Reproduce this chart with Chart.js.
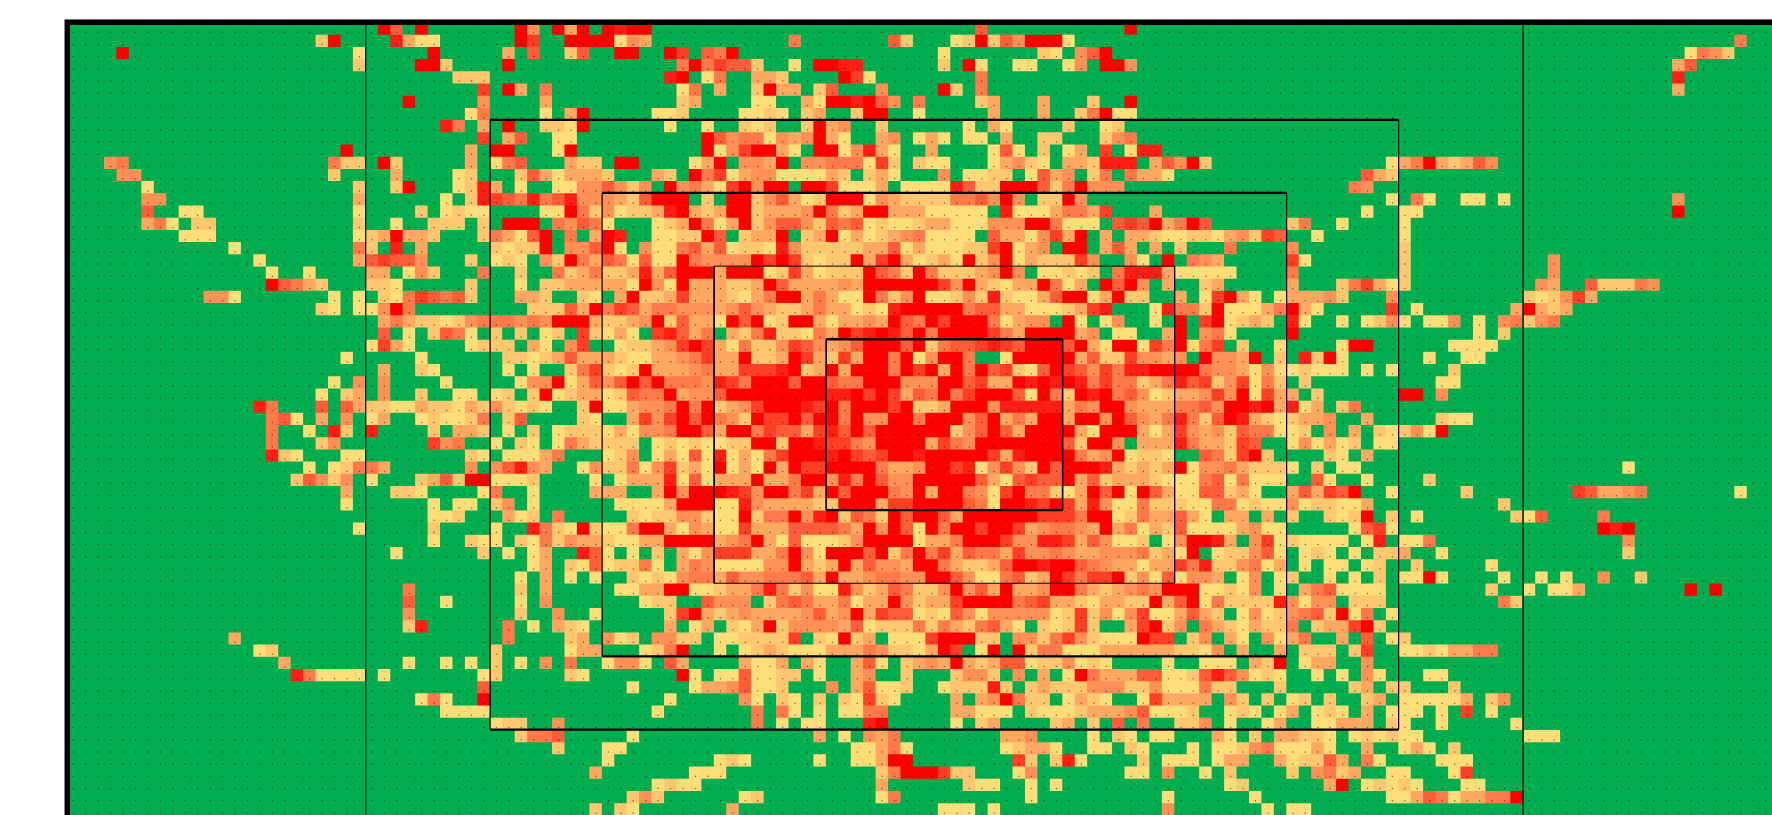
<!DOCTYPE html>
<html>
<head>
<meta charset="utf-8">
<title>Heat map</title>
<script src="https://cdn.jsdelivr.net/npm/chart.js@4"></script>
<style>
html,body{margin:0;padding:0;background:#fff;}
canvas{display:block;}
</style>
</head>
<body>
<canvas id="heatChart" width="1772" height="815"></canvas>
<script>
const columnCount = 137;
const levelColors = ['#00AE50','#FFDD78','#FFC870','#FFA862','#FF9156','#FF7A4A','#FF5C3A','#FF3E26','#FF1E14','#FF0000'];

// one string per row, "col:levels", anything not listed is level 0
const rowCells = [
  "25:96 28:9 36:94 39:939 43:9899 73:6 85:9",
  "20:29 26:8311 36:97 40:9999143 58:5 66:62 71:1292649991 134:5",
  "4:9 23:1 29:9 35:3 37:6 40:26 44:99 48:97 51:659 70:1 78:21 81:469 130:1542",
  "23:2 28:992 35:9 49:5957662 58:1 60:9988 70:2 72:91 76:11 80:14 83:994 129:36",
  "31:222 48:89 51:15 55:332 62:971 73:5 129:8",
  "33:7 35:93 38:5 49:15 52:3 55:2933 60:26 65:4 70:92 73:5 129:3",
  "27:9 33:4 38:3 49:23 55:11 59:31 61:99 63:896 66:4 68:5 73:23 78:3 82:2 85:9",
  "32:15 38:1 40:39 47:112 54:1121 59:23 63:299 68:1 74:3 78:3 81:259 84:11",
  "30:85 33:3 35:9 38:221 41:9 48:1 51:1 54:212 59:2934 65:2 72:1 74:31 80:2 83:12",
  "33:7 35:36 39:11 51:964551434 60:931 65:34 68:131 72:11 75:3 78:22 83:245",
  "22:9 32:3 34:99 39:19 51:91479931 60:9914831 69:3 74:161 78:2 80:13 83:7 85:188",
  "3:45 21:522 25:92 32:3 34:156 40:322 44:99 50:139 54:443 57:9 59:44555172 68:211 74:13421 80:332 83:888 87:3649 91:2 106:135932364",
  "4:44 21:2 26:3 31:12 36:2631333 43:2 47:32 50:957 53:1344111132 64:231 70:4 72:1122 77:1634 82:25 85:5331 104:632",
  "6:1 23:2 26:29 31:128 34:3 36:1 39:1144 43:6424 48:9453179499 59:9971113 67:1111 71:8622999 78:6259444 103:54",
  "6:44 23:3 30:1 32:28765856844 43:4326999 51:2 53:992463129991432222556494 78:22 80:94 106:1 108:51 112:11 115:1 129:4",
  "6:6 9:11 23:1 28:2 30:1211 38:11952 43:4122389323992333495239933311111 75:811135537 87:3 104:1 107:11 129:9",
  "6:351 10:22 23:2 26:1 29:222 33:2 35:999 39:5465 43:1 47:123951392466426561211233111444995111 84:6769359 91:6 98:25 102:1 107:1",
  "9:111 23:1 24:23 26:9 27:33 29:2 33:2 34:53169 40:5 42:3 43:98 47:112296 54:2339 59:23913123451111 74:63314739 83:3 85:332112 91:2134276 100:1 107:1",
  "13:1 23:52 26:8 28:3 34:21229 40:446 43:91 46:411563612218422222336131112279134 80:99 83:363 87:3 89:2 93:5 98:4 107:2",
  "15:1 23:3 24:67664 32:2 34:121 38:42953 43:6516119 50:544449797212293793123192491322274 85:41 88:9 90:5 91:43 98:71 107:2 119:4",
  "16:1 19:1 24:33 27:142 33:5 36:2 39:5235 43:2238369993999127312229652952223494 78:11212 84:5888311 91:111 98:5 107:2 119:4",
  "16:96532 24:221 32:2 36:1 38:22333 43:331941933322396333343999999749321339513 83:9694 88:3 91:23 98:3 102:257312 118:43 122:622254",
  "11:441 21:1 23:1 25:21 27:576562 36:332 41:21 44:3922373332135993531195249112428211369913922 89:3 91:17931 97:133342 106:4 117:212473",
  "20:21 23:1 24:1495 37:222 40:639 43:57635544434643223533121899999566331112378 87:1855 91:2911135931 106:7 108:1 116:39323",
  "25:353 28:221245554549993 43:223492633196912993133439659799951344 80:91 83:14 87:1 89:9 91:791232 98:81 102:1 104:1241 109:114 113:1 115:45245",
  "25:6 27:1 29:265 32:1 34:2 36:2 38:12 41:72 43:131 47:78635 53:325822153978986959999753999934 84:11 88:39 91:451 98:9 113:1 115:2",
  "24:1731 32:1222 37:31 40:47 44:12234797315224764346999692566787699969319917591 91:57 94:2 97:1 102:199 111:1111",
  "22:1 28:1 35:22123633 43:321133457339223973273995914 70:995 75:199999 81:362274434 91:94439 97:2 99:8291 109:1 112:11",
  "25:3 28:21 35:1 37:1 40:257 43:212933345337778923939995979395967216976475889999 91:5443141 98:12111 104:1 106:1 111:2",
  "21:1 23:4 25:4 30:1 36:144 39:9136 43:469695554875999699655999444996733989898575523586 91:7247152 99:2 110:11",
  "20:1 22:23 25:4 28:2 31:11 34:12 37:291233 43:126559344699999999889797365957999619529895641233 91:4749173 98:3 100:2 107:99 110:4",
  "15:85 20:6 22:63 24:221132213242121 41:29 43:113445959234799987959997922399948888835499433355 91:6499893 98:813 102:25",
  "16:561 20:3 22:4 24:13 28:121125 35:26 41:21 45:3747969542977969959449959994693539939949643585 91:2698321 98:2334 104:3 110:211",
  "16:5 19:1 21:82 24:8 29:2 31:332 35:1 37:2 39:1222 43:131445996399576637869699999924696399993199931374 91:3426551 98:12 101:4 103:3 105:212419",
  "16:5 20:24 29:745 34:1 36:21 39:1532 43:222 47:12121122992998775499993754999999962994 86:33385 91:33276 98:141312 105:11",
  "16:821 22:11 32:21 35:11135 43:124 47:131618131579998976799899999738999953491221 91:652792 101:21 104:3",
  "19:1 21:12553 32:4 34:46843 41:14 43:22514723191319397799995334997814742969998323239 90:1 91:4453222 98:1 100:2 102:11 125:1",
  "18:26424 24:1 28:236299 34:1112 42:1 44:133381613339335994859644999996316766936233321 89:11 91:5615111 100:61 104:1 109:2",
  "22:3 26:221 33:15 37:1 42:333 47:39499987499573969995493995417955213969196311 91:66231 98:363769 106:1 112:2 121:763345 134:1",
  "22:1 29:1 31:11 34:24 37:1 44:11113999118433332299937799996519987973841152221 91:1551211 98:4122113 115:2",
  "29:112 35:312 39:5 45:2122442119255948926529699639999997775991253363 91:1 93:33 96:3 98:2 101:2129 106:2 108:1 116:216 123:5",
  "23:1 29:2 34:1 37:852192 43:115993143117333666653949619599799734554393513261 91:1113411 103:1671 123:989",
  "29:1 32:211 36:2152433 43:21133999934593161112499991335999744887364112 88:149 91:983 95:471 98:21111 104:18 107:115 125:4",
  "26:1 33:2 35:1 37:13 41:86 43:1 45:1 47:2 49:314777335941999692595736553744543344452319 92:122461 99:121 103:1 105:223 110:1 125:2",
  "37:13 40:216 43:12251 49:354111144932393644399532236998996543313375 91:8224513 99:1 101:11 104:12 108:2 114:1",
  "36:1 38:3 40:1 42:1 45:2121455364455563933455449964115623975779241614 91:43 94:14 97:12 101:1 103:1 105:2 107:1191 115:1 118:1 120:1 123:4 126:2",
  "27:5 36:2 38:3 44:11339911233585241184236522494639334995323454999 91:11214 97:1 99:3561111 114:2 117:1 119:113 130:9 132:9",
  "27:6 30:1 36:1 38:4 46:122 51:6444 56:25653351339423379999567332133229369 91:1522228 98:4144 103:222 115:52",
  "27:4 36:2 39:4 42:1 48:2793234333346349376612164144444127241471136 91:32 94:1412 98:4562915 106:1",
  "27:28 35:5 37:1 39:321 48:3 50:13 53:213924444361222525325631 78:21272 85:37924 91:5321322 98:5 100:233792",
  "13:3 35:5 40:23 43:412 47:4422 52:1122227 60:21923 66:111799922 76:4425742111977 90:2 91:4 93:31 96:41 98:35 102:3 104:6 106:12",
  "15:12 34:2 40:133 46:1259 52:1 54:123211133354221397 73:19 76:9255111 83:33333322 91:14 94:3 97:3 99:222 103:27 107:11213355",
  "17:3 27:1 30:1 32:1 34:2 36:1 38:4 40:5 43:1441 48:63 54:3113 59:31 63:361 67:23439323661224121 88:1 91:111 95:329 99:133 104:4",
  "18:85 20:1111 25:1 33:12 40:21 49:91 52:1161122 60:1 63:34 67:2 71:2442 76:4 78:3 80:19533366112 91:6864121 100:1 102:1 104:41 109:11",
  "33:6 45:1 50:1334 54:6112 61:4 63:36112 70:122282 77:23222444224111 91:522 97:2 103:23 106:22 111:2",
  "28:151 33:9 48:1 54:41 57:21 60:2 62:21721 71:3 73:349522 80:1321 86:17333 91:3 93:42 96:2 98:12 101:2 104:23 107:111113 114:24",
  "30:1111 47:1 55:5 57:51 60:1 62:1155 71:33111 77:21112333461112 93:121 97:13 100:121 104:3 106:111 110:1 112:7 114:1",
  "34:122 39:4 55:5 57:1 59:11 64:89 71:1 73:23 79:23 82:2 84:6 86:5 89:22 91:4 93:1 96:13 100:11333 106:21 110:1 116:1",
  "36:2556 45:1 60:3 62:1 64:435 75:334 82:1 84:21 87:11 92:31 95:2 97:33221 103:121 106:211 117:111",
  "39:2 43:11 63:11351 75:12331 82:11 85:21 90:1 92:1124511131 104:3 107:131 111:2",
  "43:1 52:121 60:1 63:11399 76:72 79:281 86:2 88:111 92:133 97:312263 104:51 110:111",
  "42:3 50:111 65:25999722 76:14 85:11 88:4 91:1 93:2 98:2 100:4523 106:11 111:17",
  "47:1211 65:3 72:211 77:1 79:1 93:12 101:39 104:12121 112:11",
  "45:242 54:12 65:15 77:1 88:1 95:1 106:11365 111:13355 116:9",
  "42:2 44:21 53:3 70:111 74:1 88:4 96:1 98:11"
];

// strike zone boxes and the two outer lines, in cell units: left, right, top, bottom, line widths
const boxes = [
  [34,107,8,58,1.2,2.2],
  [43,98,14,52,1.2,2.2],
  [52,89,20,46,1,1],
  [61,80,26,40,1.6,2.4]
];
const sideLines = [24,117];

function parseRow(text){
  const levels = new Array(columnCount).fill(0);
  text.split(' ').forEach(function(part){
    const bits = part.split(':');
    const start = parseInt(bits[0]);
    for(let i=0;i<bits[1].length;i++){
      levels[start+i] = parseInt(bits[1][i]);
    }
  });
  return levels;
}

const labels = [];
for(let c=0;c<columnCount;c++){ labels.push(String(c)); }

const datasets = [];

// each row of the grid is one stacked bar dataset
rowCells.forEach(function(text){
  const levels = parseRow(text);
  datasets.push({
    type:'bar',
    order:3,
    data:levels.map(function(){ return 1; }),
    backgroundColor:levels.map(function(l){ return levelColors[l]; }),
    borderWidth:0,
    grouped:false,
    barPercentage:1,
    categoryPercentage:1,
    xAxisID:'x',
    yAxisID:'y'
  });
});

// dark dot in every cell
const dots = [];
for(let r=0;r<rowCells.length;r++){
  for(let c=0;c<columnCount;c++){
    dots.push({x:c+0.5,y:r+0.83});
  }
}
datasets.push({
  type:'scatter',
  order:2,
  data:dots,
  pointRadius:0.75,
  pointBorderWidth:0,
  pointBackgroundColor:'rgba(0,0,0,0.55)',
  xAxisID:'xl',
  yAxisID:'yl'
});

function lineDataset(points,width,color){
  return {
    type:'line',
    order:1,
    data:points,
    borderColor:color,
    borderWidth:width,
    pointRadius:0,
    spanGaps:false,
    tension:0,
    xAxisID:'xl',
    yAxisID:'yl'
  };
}

boxes.forEach(function(b){
  datasets.push(lineDataset([{x:b[0],y:b[2]},{x:b[0],y:b[3]},{x:NaN,y:NaN},{x:b[1],y:b[2]},{x:b[1],y:b[3]}],b[4],'#000'));
  datasets.push(lineDataset([{x:b[0],y:b[2]},{x:b[1],y:b[2]},{x:NaN,y:NaN},{x:b[0],y:b[3]},{x:b[1],y:b[3]}],b[5],'#000'));
});
sideLines.forEach(function(x){
  datasets.push(lineDataset([{x:x,y:0},{x:x,y:rowCells.length}],1,'#00301a'));
});

// green under the bars so the cell seams do not show white, black frame on top
const frame = {
  id:'frame',
  beforeDatasetsDraw(chart){
    const a = chart.chartArea;
    chart.ctx.save();
    chart.ctx.fillStyle = levelColors[0];
    chart.ctx.fillRect(a.left,a.top,a.width,a.height);
    chart.ctx.restore();
  },
  afterDraw(chart){
    const a = chart.chartArea;
    const ctx = chart.ctx;
    ctx.save();
    ctx.strokeStyle = '#000';
    ctx.lineWidth = 5.5;
    ctx.strokeRect(a.left+0.3,a.top,a.width+20,a.height+20);
    ctx.restore();
  }
};

new Chart(document.getElementById('heatChart'),{
  type:'bar',
  data:{labels:labels,datasets:datasets},
  plugins:[frame],
  options:{
    responsive:false,
    animation:false,
    layout:{autoPadding:false,padding:{left:67,top:22.2,right:0,bottom:0}},
    plugins:{legend:{display:false},tooltip:{enabled:false}},
    events:[],
    scales:{
      x:{stacked:true,display:false,grid:{display:false}},
      y:{stacked:true,display:false,reverse:true,min:0,max:rowCells.length,grid:{display:false}},
      xl:{type:'linear',axis:'x',display:false,offset:false,min:0,max:columnCount},
      yl:{type:'linear',axis:'y',display:false,reverse:true,min:0,max:rowCells.length}
    }
  }
});
</script>
</body>
</html>
